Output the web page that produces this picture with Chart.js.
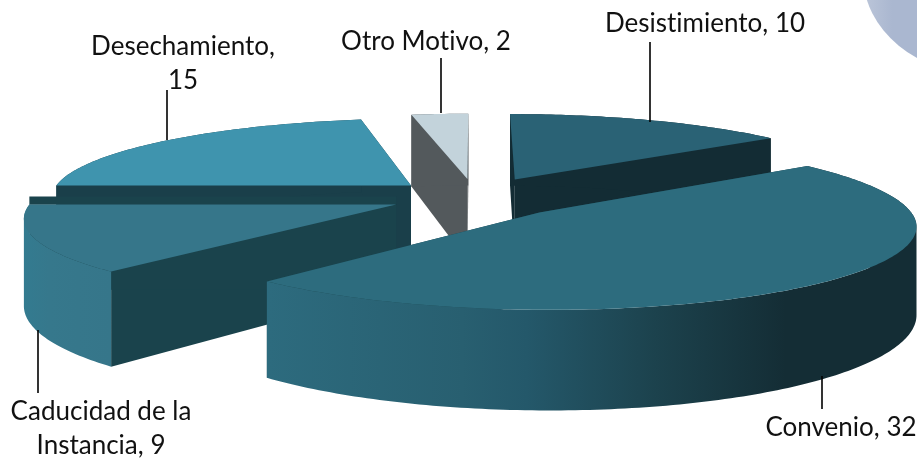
<!DOCTYPE html>
<html>
<head>
<meta charset="utf-8">
<title>Motivos</title>
<script src="https://cdn.jsdelivr.net/npm/chart.js@4"></script>
<style>
    html, body { margin: 0; padding: 0; background: #fff; overflow: hidden; }
    #wrap { position: relative; width: 917px; height: 460px; overflow: hidden; }
    #blob { position: absolute; left: 863px; top: -125px; width: 244px; height: 200px; border-radius: 50%;
            background: linear-gradient(90deg, #bcc6d9 0, #aab7d0 12%, #aab7d0 100%); }
    canvas { position: absolute; left: 0; top: 0; }
</style>
</head>
<body>
<div id="wrap">
    <div id="blob"></div>
    <canvas id="chartPie" width="917" height="460"></canvas>
</div>
<script>
    // Data
    const categories = ['Desistimiento', 'Convenio', 'Caducidad de la Instancia', 'Desechamiento', 'Otro Motivo'];
    const values = [10, 32, 9, 15, 2];

    // Colours per slice: top face, side walls
    const topColors = ['#2a6275', '#2d6c7e', '#36768a', '#3f94ae', '#c3d3db'];
    const edgeColors = ['#132c34', '#1a434c', '#1a434c', '#1a3f4a', '#53595c'];

    // 3D look of the pie
    const explode = [92, 93, 85, 85, 85];
    const depth = 84;
    const tilt = 0.2185;
    const viewDist = 2600;
    const drawOrder = [3, 4, 0, 2, 1];

    // Label text blocks and their leader lines
    const labelSpots = [
        { x: 705, y: [24], split: 2, line: [650, 42, 650, 122] },
        { x: 841, y: [428], split: 2, line: [822, 376, 822, 409] },
        { x: 101, y: [412, 446], split: 3, line: [38, 330, 38, 393] },
        { x: 183, y: [47, 81], split: 1, line: [167, 90, 167, 140] },
        { x: 426, y: [42], split: 3, line: [441, 58, 441, 113] }
    ];

    function project(arc, px, py) {
        // px, py are pie coordinates around the centre, py grows towards the viewer
        const s = 1 / (1 - py / viewDist);
        return { x: arc.x + px * s, y: arc.y + py * tilt * s, s: s };
    }

    function slicePoints(arc, offset) {
        const mid = (arc.startAngle + arc.endAngle) / 2;
        const ox = Math.cos(mid) * offset;
        const oy = Math.sin(mid) * offset;
        const steps = Math.ceil((arc.endAngle - arc.startAngle) * 60);
        const rim = [];
        for (let i = 0; i <= steps; i++) {
            const a = arc.startAngle + (arc.endAngle - arc.startAngle) * i / steps;
            rim.push(project(arc, ox + arc.outerRadius * Math.cos(a), oy + arc.outerRadius * Math.sin(a)));
        }
        return { apex: project(arc, ox, oy), rim: rim };
    }

    function fillPoly(ctx, pts, fill) {
        ctx.beginPath();
        pts.forEach(function(p, i) {
            if (i === 0) ctx.moveTo(p.x, p.y); else ctx.lineTo(p.x, p.y);
        });
        ctx.closePath();
        ctx.fillStyle = fill;
        ctx.fill();
    }

    function dropped(p, dy) {
        return { x: p.x, y: p.y + dy * p.s };
    }

    // The curved wall folds over itself at the sides, so every quad goes in the path with the same winding
    function fillRimWall(ctx, rim, fill) {
        ctx.beginPath();
        for (let i = 0; i < rim.length - 1; i++) {
            const a = rim[i];
            const b = rim[i + 1];
            let quad = [a, b, dropped(b, depth), dropped(a, depth)];
            let area = 0;
            quad.forEach(function(p, j) {
                const q = quad[(j + 1) % 4];
                area += p.x * q.y - q.x * p.y;
            });
            if (area < 0) quad = quad.reverse();
            quad.forEach(function(p, j) {
                if (j === 0) ctx.moveTo(p.x, p.y); else ctx.lineTo(p.x, p.y);
            });
            ctx.closePath();
        }
        ctx.fillStyle = fill;
        ctx.fill();
    }

    function wallFill(ctx, index) {
        if (index === 1) {
            const g = ctx.createLinearGradient(268, 0, 915, 0);
            g.addColorStop(0, '#2d6b7e');
            g.addColorStop(0.3, '#285f70');
            g.addColorStop(0.4, '#24586a');
            g.addColorStop(0.6, '#1c424d');
            g.addColorStop(0.8, '#142d35');
            g.addColorStop(1, '#142d35');
            return g;
        }
        if (index === 2) {
            const g = ctx.createLinearGradient(22, 0, 110, 0);
            g.addColorStop(0, '#337b90');
            g.addColorStop(0.3, '#36788c');
            g.addColorStop(1, '#36768a');
            return g;
        }
        return edgeColors[index];
    }

    const pie3d = {
        id: 'pie3d',
        beforeDatasetsDraw(chart) {
            const ctx = chart.ctx;
            const arcs = chart.getDatasetMeta(0).data;
            ctx.save();
            drawOrder.forEach(function(index) {
                const arc = arcs[index].getProps(['x', 'y', 'startAngle', 'endAngle', 'outerRadius'], true);
                const shape = slicePoints(arc, arcs[index].options.offset);
                const rim = shape.rim;
                const first = rim[0];
                const last = rim[rim.length - 1];

                // raised strip along the back edge of this slice
                if (index === 2) {
                    fillPoly(ctx, [last, shape.apex, dropped(shape.apex, -8), dropped(last, -8)], edgeColors[index]);
                }

                // radial walls
                [first, last].forEach(function(p) {
                    fillPoly(ctx, [shape.apex, p, dropped(p, depth), dropped(shape.apex, depth)], edgeColors[index]);
                });

                // outer wall
                fillRimWall(ctx, rim, wallFill(ctx, index));

                // top face
                fillPoly(ctx, [shape.apex].concat(rim), topColors[index]);
            });
            ctx.restore();
            return false;
        },
        afterDraw(chart) {
            const ctx = chart.ctx;
            ctx.save();
            ctx.strokeStyle = '#000';
            ctx.lineWidth = 1.6;
            ctx.fillStyle = '#111';
            ctx.font = '26px Lato, "Open Sans", sans-serif';
            ctx.letterSpacing = '0.01px';
            ctx.textAlign = 'center';
            ctx.textBaseline = 'middle';
            labelSpots.forEach(function(spot, i) {
                ctx.beginPath();
                ctx.moveTo(spot.line[0], spot.line[1]);
                ctx.lineTo(spot.line[2], spot.line[3]);
                ctx.stroke();
                const words = (categories[i] + ', ' + values[i]).split(' ');
                const rows = spot.y.length === 1 ? [words.join(' ')]
                    : [words.slice(0, spot.split).join(' '), words.slice(spot.split).join(' ')];
                rows.forEach(function(row, r) {
                    ctx.fillText(row, spot.x, spot.y[r]);
                });
            });
            ctx.restore();
        }
    };

    new Chart(document.getElementById('chartPie'), {
        type: 'pie',
        data: {
            labels: categories,
            datasets: [{
                data: values,
                backgroundColor: topColors,
                offset: explode,
                borderWidth: 0
            }]
        },
        options: {
            responsive: false,
            animation: false,
            radius: 362,
            layout: { padding: { left: 33, bottom: 66 } },
            plugins: {
                legend: { display: false },
                tooltip: { enabled: false }
            }
        },
        plugins: [pie3d]
    });
</script>
</body>
</html>
